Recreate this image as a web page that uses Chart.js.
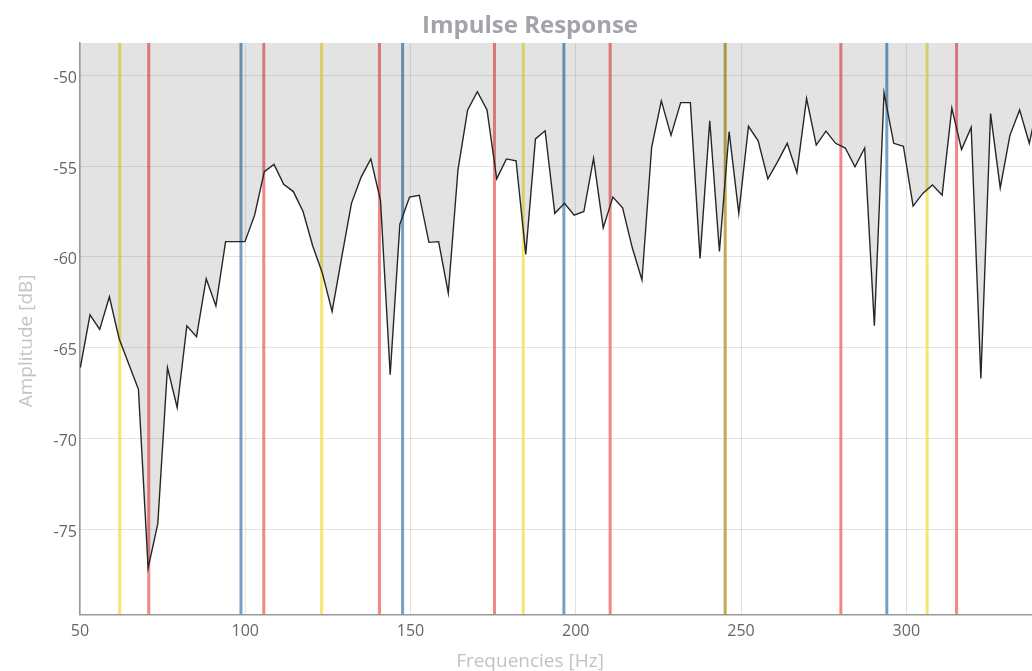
<!DOCTYPE html>
<html>
<head>
<meta charset="utf-8">
<script src="https://cdn.jsdelivr.net/npm/chart.js@4"></script>
<style>
  html, body { margin: 0; padding: 0; overflow: hidden; background: #fff; }
  #wrap { width: 1060px; height: 680px; position: relative; }
</style>
</head>
<body>
<div id="wrap"><canvas id="impulseChart"></canvas></div>
<script>
// FFT bins: first bin and bin width in Hz
const startFreq = 50.1;
const binWidth = 48000 / 16384;

// amplitude per bin [dB]
const amplitudes = [
  -66.1, -63.2, -64.0, -62.2, -64.5, -65.9, -67.3, -77.15, -74.7, -66.1,
  -68.3, -63.8, -64.4, -61.2, -62.7, -59.16, -59.16, -59.16, -57.7, -55.3,
  -54.9, -56.0, -56.4, -57.5, -59.4, -60.9, -63.0, -60.0, -57.05, -55.6,
  -54.6, -56.9, -66.5, -58.2, -56.7, -56.6, -59.2, -59.16, -62.0, -55.2,
  -51.9, -50.9, -51.9, -55.7, -54.6, -54.7, -59.86, -53.5, -53.05, -57.6,
  -57.05, -57.7, -57.5, -54.57, -58.4, -56.7, -57.3, -59.5, -61.27, -53.96,
  -51.4, -53.3, -51.5, -51.5, -60.08, -52.5, -59.7, -53.1, -57.6, -52.8,
  -53.6, -55.7, -54.76, -53.74, -55.36, -51.27, -53.84, -53.07, -53.74, -54.0,
  -55.03, -54.0, -63.8, -50.96, -53.74, -53.9, -57.2, -56.5, -56.04, -56.6,
  -51.8, -54.08, -52.86, -66.7, -52.1, -56.2, -53.3, -51.9, -53.74, -51.3,
];

// marker frequencies [Hz]
const yellowFreqs = [62.0, 123.1, 184.1, 306.3];
const redFreqs = [70.8, 105.6, 140.6, 175.4, 210.4, 280.2, 315.2];
const blueFreqs = [98.7, 147.6, 196.4, 294.1];
const oliveFreqs = [245.2];

const xTicks = [50, 100, 150, 200, 250, 300];
const yTicks = [-75, -70, -65, -60, -55, -50];

document.addEventListener("DOMContentLoaded", () => {
  const ctx = document.getElementById("impulseChart").getContext("2d");
  const yMin = -79.7;
  const yMax = -48.2;

  const points = amplitudes.map((v, i) => ({ x: startFreq + i * binWidth, y: v }));

  const markerSets = [
    [yellowFreqs, "rgba(240, 215, 40, 0.65)"],
    [redFreqs, "rgba(235, 70, 70, 0.65)"],
    [blueFreqs, "rgba(60, 120, 170, 0.7)"],
    [oliveFreqs, "rgba(175, 150, 40, 0.8)"],
  ];
  const markers = [];
  markerSets.forEach(([freqs, color]) => {
    freqs.forEach((f) => {
      markers.push({
        data: [{ x: f, y: yMin }, { x: f, y: yMax }],
        borderColor: color,
        borderWidth: 3,
        pointRadius: 0,
        fill: false,
        order: 2,
      });
    });
  });

  new Chart(ctx, {
    type: "line",
    data: {
      datasets: [
        {
          label: "Amplitude",
          data: points,
          borderColor: "#262626",
          borderWidth: 1.4,
          pointRadius: 0,
          tension: 0,
          fill: "end",
          backgroundColor: "rgba(0, 0, 0, 0.11)",
          order: 1,
        },
        ...markers,
      ],
    },
    options: {
      responsive: true,
      maintainAspectRatio: false,
      animation: false,
      layout: { padding: 0 },
      plugins: {
        legend: { display: false },
        tooltip: { enabled: false },
        title: {
          display: true,
          text: "Impulse Response",
          color: "#a3a3ab",
          font: { family: "'Open Sans'", size: 24, weight: "bold" },
          padding: { top: 12, bottom: 2 },
        },
        subtitle: {
          display: true,
          position: "bottom",
          text: "Frequencies [Hz]",
          color: "#c2c2c2",
          font: { family: "'Open Sans'", size: 19 },
          padding: { top: 9.3, bottom: 6.6 },
        },
      },
      scales: {
        x: {
          type: "linear",
          min: 50,
          max: 346.5,
          z: 1,
          afterFit: (scale) => { scale.height = 27; },
          afterBuildTicks: (scale) => { scale.ticks = xTicks.map((v) => ({ value: v })); },
          ticks: {
            color: "#666",
            font: { family: "'Open Sans'", size: 16 },
            padding: 8,
          },
          grid: { color: "rgba(0, 0, 0, 0.11)", drawTicks: false },
          border: { color: "#999", width: 1.5 },
        },
        y: {
          min: yMin,
          max: yMax,
          z: 1,
          afterFit: (scale) => { scale.width = 80; },
          afterBuildTicks: (scale) => { scale.ticks = yTicks.map((v) => ({ value: v })); },
          title: {
            display: true,
            // trailing spaces push the rotated label a little lower, as in the original
            text: "Amplitude [dB]\u00a0\u00a0\u00a0\u00a0\u00a0",
            color: "#c4c4c4",
            font: { family: "'Open Sans'", size: 19 },
            padding: { top: 15, bottom: 4 },
          },
          ticks: {
            color: "#666",
            font: { family: "'Open Sans'", size: 16 },
            padding: 3,
            labelOffset: 3,
          },
          grid: { color: "rgba(0, 0, 0, 0.11)", drawTicks: false },
          border: { color: "#999", width: 1.5 },
        },
      },
    },
  });
});
</script>
</body>
</html>
